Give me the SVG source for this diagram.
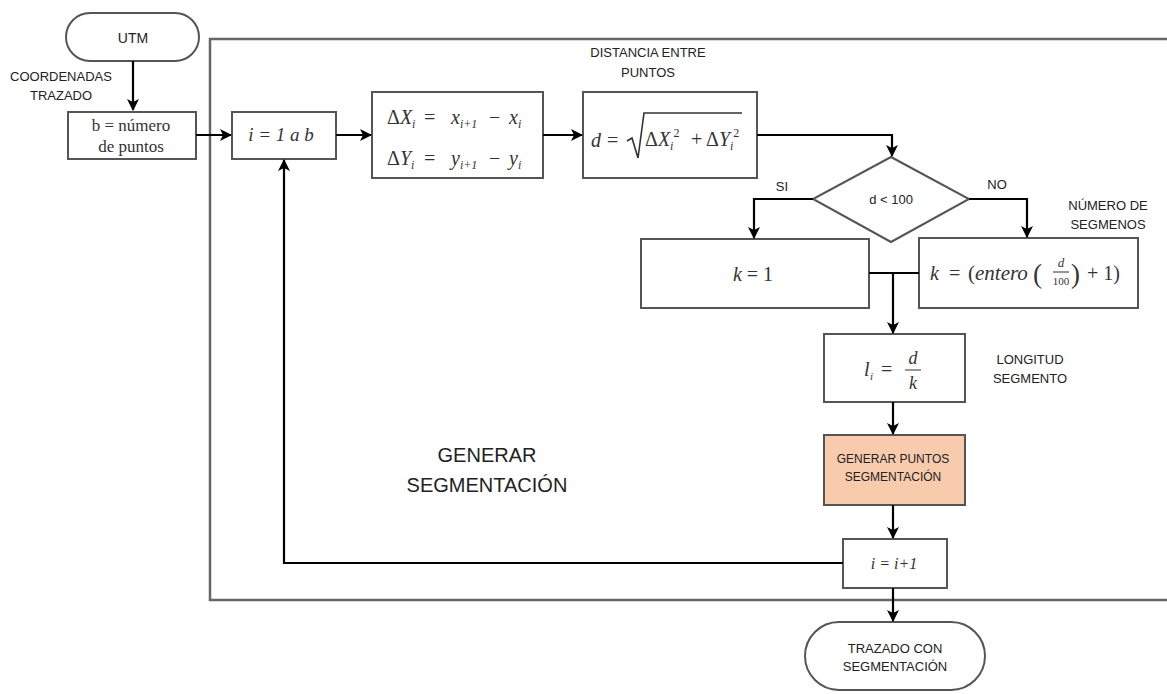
<svg xmlns="http://www.w3.org/2000/svg" width="1167" height="694" viewBox="0 0 1167 694">
<style>
.box{fill:#fff;stroke:#555;stroke-width:2}
.frame{fill:none;stroke:#666;stroke-width:2.5}
.conn{fill:none;stroke:#000;stroke-width:2.2}
.lbl{font-family:"Liberation Sans",Arial,sans-serif;font-size:13px;fill:#222;text-anchor:middle}
.math{font-family:"Liberation Serif","DejaVu Serif",serif;font-size:18px;fill:#333}
.big{font-size:20px}
.it{font-style:italic}
.mid{text-anchor:middle}
.sub{font-size:12px;font-style:italic}
.sup{font-size:12px}
</style>
<defs>
<marker id="ah" viewBox="0 0 12 12" refX="11" refY="6" markerWidth="12" markerHeight="12" markerUnits="userSpaceOnUse" orient="auto">
<path d="M0,0 L12,6 L0,12 L3,6 z" fill="#000"/>
</marker>
</defs>
<rect width="1167" height="694" fill="#fff"/>

<rect class="frame" x="210" y="39" width="980" height="561"/>

<g id="utm">
<rect class="box" x="66" y="13" width="133" height="48" rx="24"/>
<text class="lbl" x="133" y="43" style="font-size:14px">UTM</text>
</g>
<g id="lbl-coord">
<text class="lbl" x="61" y="81">COORDENADAS</text>
<text class="lbl" x="61" y="100">TRAZADO</text>
</g>
<g id="b-box">
<rect class="box" x="68" y="112" width="128" height="47"/>
<text class="math mid" x="131" y="131" style="font-size:17px">b = número</text>
<text class="math mid" x="131" y="152" style="font-size:17px">de puntos</text>
</g>
<g id="i-box">
<rect class="box" x="232" y="112" width="104" height="47"/>
<text class="math it mid" x="281" y="141" style="font-size:19px">i = 1 a b</text>
</g>
<g id="delta-box">
<rect class="box" x="372" y="92" width="171" height="86"/>
<text class="math big" y="124"><tspan x="387">Δ</tspan><tspan class="it">X</tspan><tspan class="sub" dy="4">i</tspan><tspan dy="-4" x="424">=</tspan><tspan class="it" x="451">x</tspan><tspan class="sub" dy="4">i+1</tspan><tspan dy="-4" x="489">−</tspan><tspan class="it" x="509">x</tspan><tspan class="sub" dy="4">i</tspan></text>
<text class="math big" y="165"><tspan x="387">Δ</tspan><tspan class="it">Y</tspan><tspan class="sub" dy="4">i</tspan><tspan dy="-4" x="424">=</tspan><tspan class="it" x="451">y</tspan><tspan class="sub" dy="4">i+1</tspan><tspan dy="-4" x="489">−</tspan><tspan class="it" x="509">y</tspan><tspan class="sub" dy="4">i</tspan></text>
</g>
<g id="d-box">
<rect class="box" x="583" y="92" width="174" height="86"/>
<text class="math it" x="591" y="147" style="font-size:20px">d</text>
<text class="math" x="607" y="147" style="font-size:20px">=</text>
<polyline points="627,141 632,138 638,158 644,113 742,113" fill="none" stroke="#333" stroke-width="1.6"/>
<text class="math big" y="146"><tspan x="645">Δ</tspan><tspan class="it">X</tspan><tspan class="sub" dy="4">i</tspan><tspan class="sup" dy="-13">2</tspan><tspan dy="9" x="691">+</tspan><tspan x="706">Δ</tspan><tspan class="it">Y</tspan><tspan class="sub" dy="4">i</tspan><tspan class="sup" dy="-13">2</tspan></text>
</g>
<g id="lbl-dist">
<text class="lbl" x="648" y="57">DISTANCIA ENTRE</text>
<text class="lbl" x="648" y="77">PUNTOS</text>
</g>
<g id="decision">
<polygon class="box" points="891,157 969,199 891,242 813,199"/>
<text class="lbl" x="891" y="204">d &lt; 100</text>
</g>
<g id="lbl-si"><text class="lbl" x="782" y="191">SI</text></g>
<g id="lbl-no"><text class="lbl" x="997" y="189">NO</text></g>
<g id="k1-box">
<rect class="box" x="641" y="239" width="228" height="69"/>
<text class="math mid" x="753" y="281" style="font-size:20px"><tspan class="it">k</tspan> = 1</text>
</g>
<g id="k-box">
<rect class="box" x="919" y="238" width="219" height="70"/>
<text class="math it" x="930" y="280" style="font-size:20px">k</text>
<text class="math" x="949" y="280" style="font-size:20px">=</text>
<text class="math" x="968" y="280" style="font-size:21px">(<tspan class="it">entero</tspan></text>
<text class="math" x="1033" y="283" style="font-size:27px">(</text>
<text class="math it mid" x="1061" y="267" style="font-size:13px">d</text>
<line x1="1053" y1="272" x2="1069" y2="272" stroke="#333" stroke-width="1"/>
<text class="math mid" x="1061" y="285" style="font-size:11px">100</text>
<text class="math" x="1071" y="283" style="font-size:27px">)</text>
<text class="math" x="1087" y="280" style="font-size:20px">+ 1)</text>
</g>
<g id="lbl-num">
<text class="lbl" x="1108" y="210">NÚMERO DE</text>
<text class="lbl" x="1108" y="229">SEGMENOS</text>
</g>
<g id="l-box">
<rect class="box" x="824" y="334" width="141" height="68"/>
<text class="math it" x="864" y="376" style="font-size:20px">l</text>
<text class="math it" x="870" y="380" style="font-size:11px">i</text>
<text class="math" x="881" y="376" style="font-size:20px">=</text>
<text class="math it mid" x="913" y="364">d</text>
<line x1="905" y1="370" x2="921" y2="370" stroke="#333" stroke-width="1"/>
<text class="math it mid" x="913" y="389">k</text>
</g>
<g id="lbl-long">
<text class="lbl" x="1030" y="364">LONGITUD</text>
<text class="lbl" x="1030" y="383">SEGMENTO</text>
</g>
<g id="gen-box">
<rect x="824" y="435" width="141" height="70" fill="#F8CBAD" stroke="#555" stroke-width="2"/>
<text class="lbl" x="893" y="463" style="font-size:12px">GENERAR PUNTOS</text>
<text class="lbl" x="893" y="481" style="font-size:12px">SEGMENTACIÓN</text>
</g>
<g id="inc-box">
<rect class="box" x="843" y="539" width="104" height="49"/>
<text class="math it mid" x="894" y="569" style="font-size:16px">i = i+1</text>
</g>
<g id="end">
<rect class="box" x="805" y="622" width="180" height="68" rx="34"/>
<text class="lbl" x="895" y="653">TRAZADO CON</text>
<text class="lbl" x="895" y="671">SEGMENTACIÓN</text>
</g>
<g id="lbl-gen">
<text class="lbl" x="487" y="462" style="font-size:20px">GENERAR</text>
<text class="lbl" x="487" y="492" style="font-size:20px">SEGMENTACIÓN</text>
</g>

<g id="connectors">
<path class="conn" d="M133,61 V110" marker-end="url(#ah)"/>
<path class="conn" d="M196,135 H231" marker-end="url(#ah)"/>
<path class="conn" d="M336,135 H371" marker-end="url(#ah)"/>
<path class="conn" d="M543,135 H582" marker-end="url(#ah)"/>
<path class="conn" d="M757,135 H892 V156" marker-end="url(#ah)"/>
<path class="conn" d="M813,199 H754 V238" marker-end="url(#ah)"/>
<path class="conn" d="M969,199 H1027 V237" marker-end="url(#ah)"/>
<path class="conn" d="M869,273 H919"/>
<path class="conn" d="M893,273 V333" marker-end="url(#ah)"/>
<path class="conn" d="M893,402 V434" marker-end="url(#ah)"/>
<path class="conn" d="M893,505 V538" marker-end="url(#ah)"/>
<path class="conn" d="M893,588 V621" marker-end="url(#ah)"/>
<path class="conn" d="M843,563 H284 V160" marker-end="url(#ah)"/>
</g>
</svg>
